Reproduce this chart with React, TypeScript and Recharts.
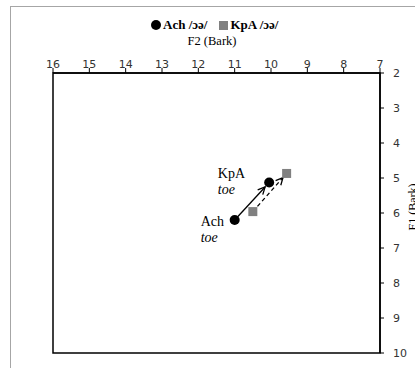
import React from "react";
import {
  ScatterChart,
  Scatter,
  XAxis,
  YAxis,
  ReferenceArea,
} from "recharts";

// F2 / F1 formant values (Bark), onset -> offset
const achF2 = [11.0, 10.05];
const achF1 = [6.2, 5.13];
const kpaF2 = [10.5, 9.57];
const kpaF1 = [5.96, 4.87];

const achName = "Ach";
const kpaName = "KpA";
const vowel = "/ɔə/";
const wordLabel = "toe";

const f2Ticks = [7, 8, 9, 10, 11, 12, 13, 14, 15, 16];
const f1Ticks = [2, 3, 4, 5, 6, 7, 8, 9, 10];

const achRows = achF2.map((f2, i) => ({ f2, f1: achF1[i] }));
const kpaRows = kpaF2.map((f2, i) => ({ f2, f1: kpaF1[i] }));

const serif = "'Liberation Serif', 'Times New Roman', serif";
const sans = "'DejaVu Sans', Verdana, sans-serif";

// line from first to second point, stopping short of the marker, with an open head
function arrowLine(dashed: boolean, gapEnd: number) {
  return (props: any) => {
    const pts = props.points;
    if (!pts || pts.length < 2) return <g />;
    const a = pts[0];
    const b = pts[1];
    const dx = b.x - a.x;
    const dy = b.y - a.y;
    const len = Math.hypot(dx, dy);
    const ux = dx / len;
    const uy = dy / len;
    const ex = b.x - ux * gapEnd;
    const ey = b.y - uy * gapEnd;
    const head = 8;
    const ang = Math.PI / 7;
    const back = Math.atan2(-uy, -ux);
    const h1x = ex + head * Math.cos(back + ang);
    const h1y = ey + head * Math.sin(back + ang);
    const h2x = ex + head * Math.cos(back - ang);
    const h2y = ey + head * Math.sin(back - ang);
    return (
      <g stroke="#000" strokeWidth={1.3} fill="none">
        <line
          x1={a.x}
          y1={a.y}
          x2={ex}
          y2={ey}
          strokeDasharray={dashed ? "4 3" : undefined}
        />
        <polyline points={`${h1x},${h1y} ${ex},${ey} ${h2x},${h2y}`} />
      </g>
    );
  };
}

function PointTag({ x, y, name }: { x: number; y: number; name: string }) {
  return (
    <text x={x} y={y} fontFamily={serif} fontSize={14} fill="#000">
      <tspan x={x}>{name}</tspan>
      <tspan x={x} dy={16} fontStyle="italic">
        {wordLabel}
      </tspan>
    </text>
  );
}

function AchDot(p: any) {
  return (
    <g>
      <circle cx={p.cx} cy={p.cy} r={5} fill="#000" />
      {p.index === 0 && <PointTag x={p.cx - 34} y={p.cy + 6} name={achName} />}
    </g>
  );
}

function KpaSquare(p: any) {
  return (
    <g>
      <rect x={p.cx - 4.5} y={p.cy - 4.5} width={9} height={9} fill="#808080" />
      {p.index === 0 && <PointTag x={p.cx - 35} y={p.cy - 34} name={kpaName} />}
    </g>
  );
}

export default function App() {
  return (
    <div
      style={{
        position: "absolute",
        left: 0,
        top: 0,
        width: 415,
        height: 368,
        overflow: "hidden",
        background: "#fff",
      }}
    >
      <div
        style={{
          position: "absolute",
          left: 10,
          top: 6,
          width: 440,
          height: 400,
          border: "1.5px solid #a6a6a6",
        }}
      />
      <div
        style={{
          position: "absolute",
          left: 151,
          top: 17,
          display: "flex",
          alignItems: "center",
          fontFamily: serif,
          fontWeight: "bold",
          fontSize: 13,
          whiteSpace: "nowrap",
        }}
      >
        <span
          style={{
            display: "inline-block",
            width: 10,
            height: 10,
            borderRadius: "50%",
            background: "#000",
            marginRight: 2,
          }}
        />
        <span>
          {achName} {vowel}
        </span>
        <span
          style={{
            display: "inline-block",
            width: 9,
            height: 9,
            background: "#808080",
            marginLeft: 12,
            marginRight: 2,
          }}
        />
        <span>
          {kpaName} {vowel}
        </span>
      </div>
      <div
        style={{
          position: "absolute",
          left: 212,
          top: 41,
          transform: "translate(-50%, -50%)",
          fontFamily: serif,
          fontSize: 12.5,
          whiteSpace: "nowrap",
        }}
      >
        F2 (Bark)
      </div>
      <div
        style={{
          position: "absolute",
          left: 413,
          top: 207,
          transform: "translate(-50%, -50%) rotate(-90deg)",
          fontFamily: serif,
          fontSize: 12,
          whiteSpace: "nowrap",
        }}
      >
        F1 (Bark)
      </div>
      <div style={{ position: "absolute", left: 0, top: 0 }}>
        <ScatterChart
          width={415}
          height={368}
          margin={{ top: 43, right: 5, bottom: 15, left: 53 }}
        >
          <XAxis
            type="number"
            dataKey="f2"
            orientation="top"
            domain={[7, 16]}
            ticks={f2Ticks}
            reversed
            height={30}
            tickSize={5}
            tickMargin={0}
            interval={0}
            axisLine={{ stroke: "#000", strokeWidth: 1.5 }}
            tickLine={{ stroke: "#000" }}
            tick={{ fontFamily: sans, fontSize: 11, fill: "#333" }}
          />
          <YAxis
            type="number"
            dataKey="f1"
            orientation="right"
            domain={[2, 10]}
            ticks={f1Ticks}
            reversed
            width={30}
            tickSize={4}
            tickMargin={9}
            interval={0}
            axisLine={{ stroke: "#000", strokeWidth: 1.5 }}
            tickLine={{ stroke: "#000" }}
            tick={{ fontFamily: sans, fontSize: 11, fill: "#333" }}
          />
          <ReferenceArea
            x1={7}
            x2={16}
            y1={2}
            y2={10}
            fill="none"
            stroke="#000"
            strokeWidth={1.5}
            fillOpacity={0}
            ifOverflow="visible"
          />
          <Scatter
            name={kpaName}
            data={kpaRows}
            shape={KpaSquare}
            line={arrowLine(true, 5.5)}
            isAnimationActive={false}
          />
          <Scatter
            name={achName}
            data={achRows}
            shape={AchDot}
            line={arrowLine(false, 6)}
            isAnimationActive={false}
          />
        </ScatterChart>
      </div>
    </div>
  );
}
